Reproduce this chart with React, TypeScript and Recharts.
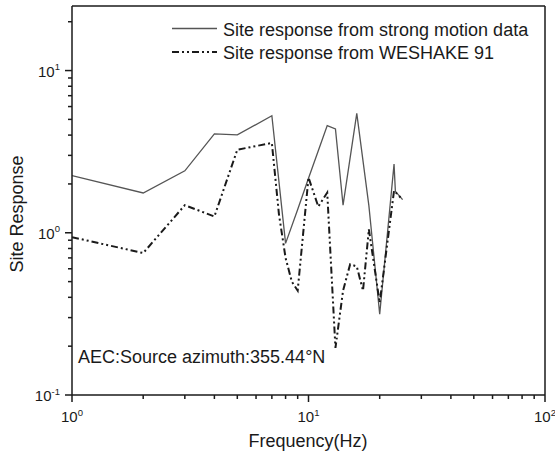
import React from 'react';
import { LineChart, Line, XAxis, YAxis, Legend, ReferenceLine, Customized } from 'recharts';

const freqStrong = [1, 2, 3, 4, 5, 7, 8, 9, 10, 11, 12, 13, 14, 16, 18, 19, 20, 23, 23.3, 25];
const respStrong = [2.25, 1.76, 2.41, 4.07, 4.01, 5.27, 0.86, 1.39, 2.17, 3.2, 4.58, 4.37, 1.48, 5.45, 1.47, 0.67, 0.315, 2.65, 1.8, 1.6];

const freqWeshake = [1, 2, 3, 4, 5, 7, 7.5, 8, 8.5, 9, 10, 11, 12, 13, 14, 15, 16, 17, 18, 20, 23, 25];
const respWeshake = [0.94, 0.75, 1.48, 1.26, 3.25, 3.58, 1.3, 0.7, 0.5, 0.44, 2.19, 1.45, 1.77, 0.195, 0.44, 0.64, 0.62, 0.44, 1.05, 0.37, 1.82, 1.6];

const xTicks = [1, 2, 3, 4, 5, 6, 7, 8, 9, 10, 20, 30, 40, 50, 60, 70, 80, 90, 100];
const yTicks = [0.1, 0.2, 0.3, 0.4, 0.5, 0.6, 0.7, 0.8, 0.9, 1, 2, 3, 4, 5, 6, 7, 8, 9, 10, 20];
const xDomain = [1, 100];
const yDomain = [0.1, 25];

const seriesNames = ['Site response from strong motion data', 'Site response from WESHAKE 91'];
const xTitle = 'Frequency(Hz)';
const yTitle = 'Site Response';
const note = 'AEC:Source azimuth:355.44°N';

const strongData = freqStrong.map((f, i) => ({ x: f, y: respStrong[i] }));
const weshakeData = freqWeshake.map((f, i) => ({ x: f, y: respWeshake[i] }));

const FONT = '"Liberation Sans", Arial, sans-serif';
const INK = '#1a1a1a';
const DASH = '7 3 2 3 2 3';

const decadeExp = (v: number) => {
  const e = Math.log10(v);
  return Math.abs(e - Math.round(e)) < 1e-9 ? Math.round(e) : null;
};

const XTick = (props: any) => {
  const { x, y, payload } = props;
  const e = decadeExp(payload.value);
  const major = e !== null;
  return (
    <g>
      <line x1={x} x2={x} y1={y} y2={y + (major ? 7 : 4)} stroke={INK} strokeWidth={1.5} />
      {major && (
        <text x={x} y={y + 27} textAnchor="middle" fontSize={15} fontFamily={FONT} fill={INK}>
          10<tspan dy={-6.5} fontSize={9.5}>{String(e)}</tspan>
        </text>
      )}
    </g>
  );
};

const YTick = (props: any) => {
  const { x, y, payload } = props;
  const e = decadeExp(payload.value);
  const major = e !== null;
  return (
    <g>
      <line x1={x} x2={x - (major ? 7 : 4)} y1={y} y2={y} stroke={INK} strokeWidth={1.5} />
      {major && (
        <text x={x - 12} y={y + 6} textAnchor="end" fontSize={15} fontFamily={FONT} fill={INK}>
          10<tspan dy={-6.5} fontSize={9.5}>{String(e)}</tspan>
        </text>
      )}
    </g>
  );
};

const LegendBox = () => (
  <svg width={555} height={70} style={{ display: 'block' }}>
    <line x1={172} x2={217} y1={28.5} y2={28.5} stroke="#555" strokeWidth={1.3} />
    <text x={223} y={35.5} fontSize={18} fontFamily={FONT} fill={INK}>{seriesNames[0]}</text>
    <line x1={172} x2={217} y1={52} y2={52} stroke={INK} strokeWidth={1.8} strokeDasharray={DASH} />
    <text x={223} y={59} fontSize={18} fontFamily={FONT} fill={INK}>{seriesNames[1]}</text>
  </svg>
);

const Annotations = () => (
  <g fontFamily={FONT} fill={INK}>
    <text x={78} y={363} fontSize={18}>{note}</text>
    <text x={308} y={447} fontSize={18} textAnchor="middle">{xTitle}</text>
    <text transform="translate(23,214) rotate(-90)" fontSize={18} textAnchor="middle">{yTitle}</text>
  </g>
);

export default function App() {
  return (
    <div style={{ position: 'absolute', left: 0, top: 0, width: 555, height: 459, background: '#fff', fontFamily: FONT }}>
      <LineChart width={555} height={459} margin={{ top: 6, right: 10, bottom: 0, left: 0 }}>
        <XAxis
          dataKey="x"
          type="number"
          scale="log"
          domain={xDomain}
          allowDataOverflow
          ticks={xTicks}
          interval={0}
          height={64}
          tickSize={0}
          tickMargin={0}
          tickLine={false}
          axisLine={{ stroke: INK, strokeWidth: 1.5 }}
          tick={<XTick />}
        />
        <YAxis
          dataKey="y"
          type="number"
          scale="log"
          domain={yDomain}
          allowDataOverflow
          ticks={yTicks}
          interval={0}
          width={72}
          tickSize={0}
          tickMargin={0}
          tickLine={false}
          axisLine={{ stroke: INK, strokeWidth: 1.5 }}
          tick={<YTick />}
        />
        <ReferenceLine y={25} stroke={INK} strokeWidth={1.5} />
        <ReferenceLine x={100} stroke={INK} strokeWidth={1.5} />
        <Line
          data={strongData}
          dataKey="y"
          name={seriesNames[0]}
          stroke="#555"
          strokeWidth={1.3}
          dot={false}
          isAnimationActive={false}
        />
        <Line
          data={weshakeData}
          dataKey="y"
          name={seriesNames[1]}
          stroke={INK}
          strokeWidth={2}
          strokeDasharray={DASH}
          dot={false}
          isAnimationActive={false}
        />
        <Legend
          layout="horizontal"
          verticalAlign="middle"
          align="center"
          content={<LegendBox />}
          wrapperStyle={{ left: 0, top: 0, width: 555, height: 70 }}
        />
        <Customized component={Annotations} />
      </LineChart>
    </div>
  );
}
